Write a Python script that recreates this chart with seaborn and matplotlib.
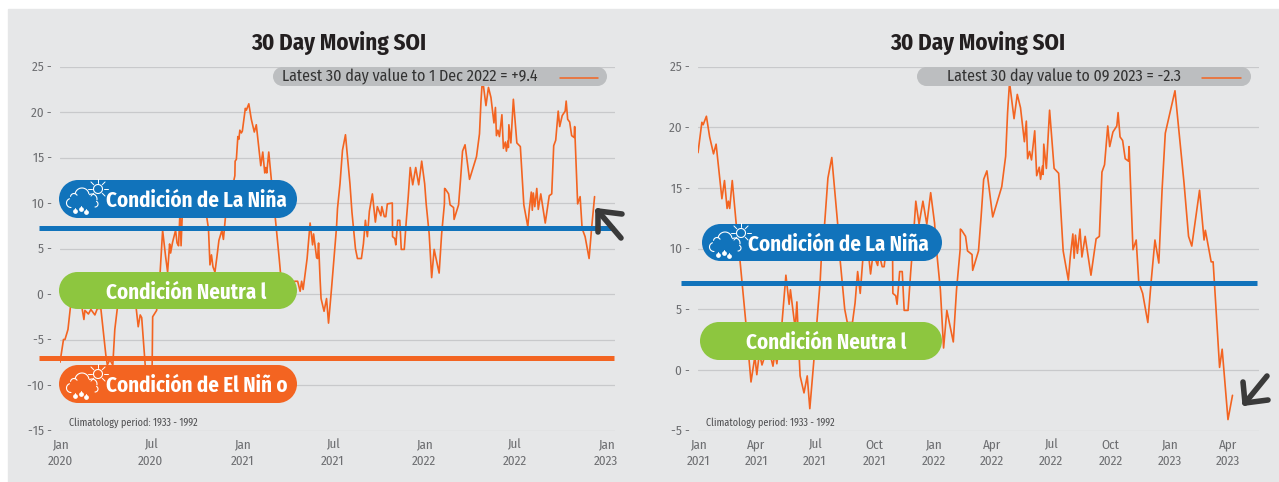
import numpy as np, pandas as pd
import matplotlib
matplotlib.use("Agg")
import matplotlib.pyplot as plt
import seaborn as sns
from matplotlib.patches import Rectangle, Circle
from matplotlib import font_manager

# days counted from 1 Jan of the year in the name
days_2020 = [0,7,10,16,21,30,40,45,48,50,57,62,70,75,82,92,95,100,106,110,115,125,140,153,157,161,164,171,176,180,185,186,194,201,206,212,216,220,222,226,232,235,238,241,243,246,255,270,283,293,298,301,304,307,311,315,319,325,328,333,345,351,351.5,354,357,359,361,364]
soi_2020 = [-7.5,-5,-5,-3.9,-1.4,0.4,0.1,-1.8,-2.8,-1.8,-2.2,-1.7,-2.3,-1.6,-1.6,-6.7,-7.8,-7.2,-7.8,-3.9,-1.6,0.5,1,-1.6,-3.6,-2.3,-2.6,-7.8,-9.5,-10,-7.8,-2.5,-1.8,2.4,7,4.1,2.4,5.5,4.5,5.7,7,5.6,5.3,9.3,5.3,9.5,11,11.5,10.5,9,7.2,3.2,4.3,3,2.4,4.1,5.9,7,6,9,11.5,13,14.6,14.8,17.3,17,18,17.7]
days_2021 = [0,6,8,13,18,24,28,37,41,45,47,49,53,59,65,74,82,88,91,95,99,105,111,116,119,122,130,136,141,143,149,151,153,156,158,164,169,173,179,184,189,191,196,201,207,216,220,227,231,239,243,247,251,255,261,267,271,278,280,285,288,291,301,301.5,306,308,312,316,319,325,329,333,337,342,348,354,360,366,369,375,380,385,395,400,405.6,406,408,414,417,424,425,434,438,442,447,456,470,476,479,482,489,494,499,505,508,510,513,516,521,524,528,530,533,534,535,539,544,551,558,565,573,576,580,582,584,587,591,594,599,608,616,621,625,629,634,637,642,648,650,653,657,661,666,667,673,678,682,688,696,701,707,713,718,723,738,752,759,764,776,783,785,794,797,799,807,811,820,827]
soi_2021 = [17.9,20.4,20.2,20.9,19.2,17.8,18.6,14.1,15.6,13.3,13.9,13.3,15.6,12.1,9,3.9,-1,1.1,-0.4,1.4,0.4,1.4,1.4,0.3,1.4,0.5,3.9,7.8,5.4,6.6,4,3.9,5.6,1.7,-0.5,-1.9,-0.5,-3.2,0.6,4,7.3,9.4,12.1,15.8,17.5,12.1,9,5,3.9,3.9,5.5,8.1,6.3,9.1,11,7.9,9.6,8.6,9.6,8.5,8.5,9.9,10,6.3,6.1,5.4,8.1,8.1,4.9,4.9,8,10.7,13.9,12,13.9,12,14.6,12.1,9.9,6.6,1.8,4.9,2.3,6.6,9.9,11.6,11.5,11,9.8,9.5,8.2,9.8,12.6,15.7,16.4,12.6,15.1,17.6,21.2,23.7,20.7,22.7,21.6,18.8,20.5,17.4,18,17.3,19.7,16,16.7,15.7,16.8,16.1,18.6,16.6,21.4,16.6,16.2,9.8,7.4,9.3,11.2,9.2,11.1,9.6,11.6,9.3,11,7.8,10.8,11,16.3,16.9,20.1,18.4,19.6,20.1,21.2,19.2,18.9,17.4,17.2,18.4,9.9,10.7,7.2,6.3,3.9,7.2,10.7,8.8,14.8,19.5,23,15.4,11,10.2,14.8,10.7,11.5,8.9,8.9,7.2,0.2,1.7,-4.1,-2.1]
last_day_left = 707

left_ticks = ['2020-01-01','2020-07-01','2021-01-01','2021-07-01','2022-01-01','2022-07-01','2023-01-01']
right_ticks = ['2021-01-01','2021-04-01','2021-07-01','2021-10-01','2022-01-01','2022-04-01','2022-07-01','2022-10-01','2023-01-01','2023-04-01']
left_yticks = [-15,-10,-5,0,5,10,15,20,25]
right_yticks = [-5,0,5,10,15,20,25]

title = "30 Day Moving SOI"
left_note = "Latest 30 day value to 1 Dec 2022 = +9.4"
right_note = "Latest 30 day value to 09 2023 = -2.3"
clim = "Climatology period: 1933 - 1992"

ORANGE, BLUE, GREEN = '#F36421', '#1173BB', '#8DC63F'
W, H = 1279, 482

sns.set_theme(style="white")
names = {f.name for f in font_manager.fontManager.ttflist}
narrow = [n for n in ['Fira Sans Condensed', 'Roboto Condensed', 'Liberation Sans Narrow', 'Roboto'] if n in names]
plt.rcParams['font.family'] = narrow + ['DejaVu Sans']


def to_frame(start, days, vals):
    d = pd.Timestamp(start) + pd.to_timedelta(np.array(days) * 86400, unit='s')
    return pd.DataFrame({'date': d, 'soi': vals})


n_left = len([d for d in days_2021 if d <= last_day_left])
left_df = pd.concat([to_frame('2020-01-01', days_2020, soi_2020),
                     to_frame('2021-01-01', days_2021[:n_left], soi_2021[:n_left])])
right_df = to_frame('2021-01-01', days_2021, soi_2021)

fig = plt.figure(figsize=(W / 100, H / 100), dpi=100, facecolor='white')
fig.add_artist(Rectangle((8 / W, 0), 1, 1 - 9 / H, transform=fig.transFigure, color='#E6E7E8', zorder=-1))


def make_axes(x0, x1, df, xmin, xmax, xticks, yticks, ylim):
    ax = fig.add_axes([x0 / W, (H - 430.5) / H, (x1 - x0) / W, 364 / H])
    ax.patch.set_alpha(0)
    sns.lineplot(data=df, x='date', y='soi', ax=ax, color=ORANGE, linewidth=1.2, legend=False, estimator=None, sort=False, zorder=3)
    ax.set_xlim(pd.Timestamp(xmin), pd.Timestamp(xmax))
    ax.set_ylim(*ylim)
    ax.set_xlabel('')
    ax.set_ylabel('')
    ax.set_yticks(yticks)
    ax.set_yticklabels([f"{v} -" for v in yticks], fontsize=9.4, color='#6D6E71')
    ax.set_xticks(pd.to_datetime(xticks))
    ax.set_xticklabels([pd.Timestamp(t).strftime('%b\n%Y') for t in xticks], fontsize=9.4, color='#6D6E71', linespacing=1.4)
    ax.tick_params(axis='both', length=0)
    ax.tick_params(axis='y', pad=6)
    ax.tick_params(axis='x', pad=6)
    ax.grid(axis='y', color='#C8C9CB', linewidth=0.9)
    ax.grid(axis='x', visible=False)
    ax.set_axisbelow(True)
    sns.despine(ax=ax, left=True, bottom=True)
    return ax


ax1 = make_axes(60, 615, left_df, '2020-01-01', '2023-01-19', left_ticks, left_yticks, (-15, 25))
ax2 = make_axes(698, 1259, right_df, '2021-01-01', '2023-05-19', right_ticks, right_yticks, (-5, 25))


def threshold(ax, value, color, x0, x1, ax_x0, ax_x1):
    ax.plot([(x0 - ax_x0) / (ax_x1 - ax_x0), (x1 - ax_x0) / (ax_x1 - ax_x0)], [value, value],
            transform=ax.get_yaxis_transform(), color=color, lw=3.6, clip_on=False, zorder=4, solid_capstyle='butt')


threshold(ax1, 7.3, BLUE, 39, 614, 60, 615)
threshold(ax1, -7, ORANGE, 39, 614, 60, 615)
threshold(ax2, 7.15, BLUE, 681, 1257, 698, 1259)

# overlay in image pixels for pills, icons, arrows
ov = fig.add_axes([0, 0, 1, 1], zorder=5)
ov.set_xlim(0, W)
ov.set_ylim(H, 0)
ov.axis('off')


def pill(x0, y0, x1, y1, color):
    r = (y1 - y0) / 2
    ov.add_patch(Circle((x0 + r, (y0 + y1) / 2), r, fc=color, ec='none'))
    ov.add_patch(Circle((x1 - r, (y0 + y1) / 2), r, fc=color, ec='none'))
    ov.add_patch(Rectangle((x0 + r, y0), x1 - x0 - 2 * r, y1 - y0, fc=color, ec='none'))


def arc(cx, cy, r, a0, a1):
    t = np.radians(np.linspace(a0, a1, 30))
    ov.plot(cx + r * np.cos(t), cy - r * np.sin(t), color='white', lw=0.8)


def icon(x, y):
    arc(x + 12, y + 23, 4.5, 110, 270)
    arc(x + 15, y + 17, 3.5, 30, 170)
    arc(x + 23, y + 15, 7, 10, 170)
    arc(x + 33, y + 19, 5, -10, 120)
    arc(x + 36, y + 24, 3, -90, 60)
    arc(x + 39, y + 9, 4.5, 0, 360)
    for a in [0, 45, 90, 135, 180, 225, -45]:
        t = np.radians(a)
        ov.plot([x + 39 + 6 * np.cos(t), x + 39 + 10 * np.cos(t)], [y + 9 - 6 * np.sin(t), y + 9 - 10 * np.sin(t)], color='white', lw=0.7)
    for dx, dy in [(16, 31), (22, 29), (27, 32)]:
        ov.plot([x + dx], [y + dy], 'o', color='white', ms=2.4)
        ov.plot([x + dx, x + dx], [y + dy - 3, y + dy], color='white', lw=0.7)


def label(x0, y0, x1, y1, color, text, tx, with_icon=True):
    pill(x0, y0, x1, y1, color)
    if with_icon:
        icon(x0, y0)
    ov.text(tx, (y0 + y1) / 2 + 2, text, color='white', fontsize=15, fontweight='bold', va='center', ha='left')


label(59, 180, 297, 218, BLUE, "Condición de La Niña", 106)
label(59, 272, 297, 309, GREEN, "Condición Neutra l", 106, False)
label(59, 365, 297, 403, ORANGE, "Condición de El Niñ o", 106)
label(702, 224, 942, 261, BLUE, "Condición de La Niña", 748)
label(700, 322, 942, 360, GREEN, "Condición Neutra l", 746, False)

# titles and latest value pills
ov.text(339, 43, title, fontsize=16.5, fontweight='bold', color='#231F20', ha='center', va='center')
ov.text(978, 43, title, fontsize=16.5, fontweight='bold', color='#231F20', ha='center', va='center')
pill(273, 67, 607, 86, '#BCBEC0')
pill(917, 67, 1251, 86, '#BCBEC0')
ov.text(282, 77, left_note, fontsize=11.55, color='#333333', va='center')
ov.text(947, 77, right_note, fontsize=11.45, color='#333333', va='center')
ov.plot([560, 598], [78, 78], color=ORANGE, lw=1.1)
ov.plot([1202, 1241], [78, 78], color=ORANGE, lw=1.1)
ov.text(69, 423, clim, fontsize=7.3, color='#4D4D4F', va='center')
ov.text(706, 423, clim, fontsize=7.3, color='#4D4D4F', va='center')

# hand drawn arrows
for pts in [[(598, 211), (622, 214)], [(598, 211), (598, 232)], [(598, 211), (621, 238)],
            [(1245, 403), (1243, 382)], [(1245, 403), (1268, 400)], [(1245, 403), (1267, 376)]]:
    ov.plot([pts[0][0], pts[1][0]], [pts[0][1], pts[1][1]], color='#3A3A3A', lw=4, solid_capstyle='round', clip_on=False)

fig.savefig('out.png', dpi=100, facecolor='white')
